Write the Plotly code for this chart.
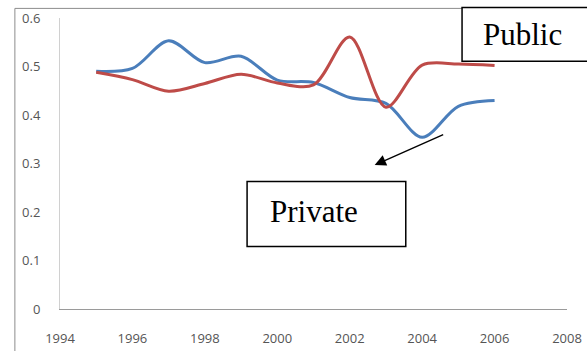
import plotly.graph_objects as go

# Ratio by sector, 1995-2006
years = [1995, 1996, 1997, 1998, 1999, 2000, 2001, 2002, 2003, 2004, 2005, 2006]
private = [0.490, 0.496, 0.553, 0.508, 0.521, 0.472, 0.467, 0.436, 0.424, 0.354, 0.418, 0.430]
public = [0.488, 0.473, 0.449, 0.465, 0.484, 0.466, 0.462, 0.561, 0.416, 0.503, 0.505, 0.502]

x_ticks = list(range(1994, 2009, 2))
y_ticks = [0, 0.1, 0.2, 0.3, 0.4, 0.5, 0.6]
y_tick_text = ["0", "0.1", "0.2", "0.3", "0.4", "0.5", "0.6"]

BLUE = "#4a7ebb"
RED = "#be4b48"

fig = go.Figure()
fig.add_trace(go.Scatter(
    x=years, y=private, mode="lines", name="Private",
    line=dict(color=BLUE, width=3, shape="spline", smoothing=0.9),
))
fig.add_trace(go.Scatter(
    x=years, y=public, mode="lines", name="Public",
    line=dict(color=RED, width=3, shape="spline", smoothing=0.9),
))

tick_font = dict(family="Open Sans, Noto Sans, sans-serif", size=13, color="#555555")

fig.update_xaxes(
    range=[1994, 2008], tickvals=x_ticks, showgrid=False, zeroline=False,
    showline=True, linecolor="#9a9a9a", linewidth=1, ticks="",
    tickfont=tick_font, ticklabelstandoff=17, automargin=False,
)
fig.update_yaxes(
    range=[0, 0.6], tickvals=y_ticks, ticktext=y_tick_text, showgrid=False,
    zeroline=False, showline=True, linecolor="#d0d0d0", linewidth=1, ticks="",
    tickfont=tick_font, ticklabelstandoff=16, automargin=False,
)

label_font = dict(family="Liberation Serif, Times New Roman, serif", size=31, color="black")

fig.update_layout(
    width=587, height=351,
    margin=dict(l=60, r=20, t=18, b=42),
    paper_bgcolor="white", plot_bgcolor="white",
    showlegend=False,
    shapes=[
        # outer chart frame (runs past the right and bottom edges)
        dict(type="rect", xref="paper", yref="paper", x0=-0.089, x1=1.3, y0=-0.5, y1=1.033,
             line=dict(color="#8c8c8c", width=1), fillcolor="rgba(0,0,0,0)", layer="below"),
        # label boxes
        dict(type="rect", xref="paper", yref="paper", x0=0.793, x1=1.1, y0=0.851, y1=1.036,
             line=dict(color="black", width=1.5), fillcolor="white", layer="above"),
        dict(type="rect", xref="paper", yref="paper", x0=0.369, x1=0.682, y0=0.215, y1=0.438,
             line=dict(color="black", width=1.5), fillcolor="white", layer="above"),
    ],
    annotations=[
        dict(text="Public", xref="paper", yref="paper", x=0.913, y=0.942,
             xanchor="center", yanchor="middle", showarrow=False, font=label_font),
        dict(text="Private", xref="paper", yref="paper", x=0.5, y=0.335,
             xanchor="center", yanchor="middle", showarrow=False, font=label_font),
        dict(text="", xref="x", yref="y", x=2002.69, y=0.297,
             ax=70, ay=-31, showarrow=True, arrowhead=2, arrowsize=1.6,
             arrowwidth=1.4, arrowcolor="black"),
    ],
)

fig.write_html("out.html")
